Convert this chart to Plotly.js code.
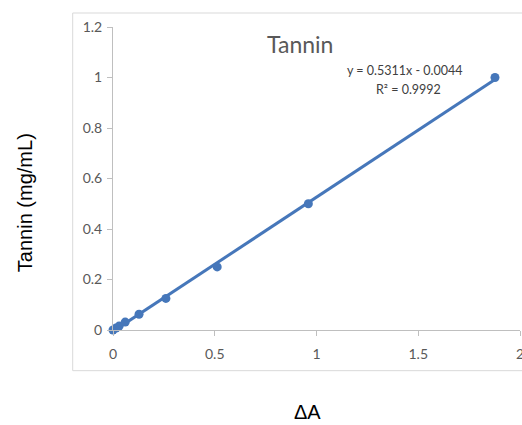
<!DOCTYPE html>
<html>
<head>
<meta charset="utf-8">
<script src="https://cdn.plot.ly/plotly-3.0.1.min.js"></script>
<style>html,body{margin:0;padding:0;background:#fff;overflow:hidden;}#chart{width:522px;height:425px;}</style>
</head>
<body>
<div id="chart"></div>
<script>
// Data
const deltaA = [0, 0.015, 0.03, 0.06, 0.128, 0.26, 0.512, 0.96, 1.877];
const tannin = [0, 0.0078, 0.0156, 0.03125, 0.0625, 0.125, 0.25, 0.5, 1.0];
const chartTitle = "Tannin";
const equationText = "y = 0.5311x - 0.0044";
const r2Text = "R² = 0.9992";
const xTickVals = [0, 0.5, 1, 1.5, 2];
const xTickText = ["0", "0.5", "1", "1.5", "2"];
const yTickVals = [0, 0.2, 0.4, 0.6, 0.8, 1, 1.2];
const yTickText = ["0", "0.2", "0.4", "0.6", "0.8", "1", "1.2"];

// Linear least-squares trendline from the data
const n = deltaA.length;
const mx = deltaA.reduce((a, b) => a + b, 0) / n;
const my = tannin.reduce((a, b) => a + b, 0) / n;
let sxy = 0, sxx = 0;
for (let i = 0; i < n; i++) { sxy += (deltaA[i] - mx) * (tannin[i] - my); sxx += (deltaA[i] - mx) ** 2; }
const slope = sxy / sxx, icpt = my - slope * mx;
const xMin = Math.min(...deltaA), xMax = Math.max(...deltaA);
const trendX = [xMin, xMax];
const trendY = trendX.map(x => slope * x + icpt);

const blue = '#4677ba';
const grey = '#595959';
const font = 'Lato, "Open Sans", sans-serif';

const traces = [
  {x: trendX, y: trendY, mode: 'lines', line: {color: blue, width: 3}, hoverinfo: 'skip', showlegend: false, cliponaxis: false},
  {x: deltaA, y: tannin, mode: 'markers', marker: {color: blue, size: 9}, showlegend: false, cliponaxis: false}
];

// pixel helpers for paper coords (plot area: x 113..520, y 26.7..330)
const L = 113, R = 520, T = 26.7, B = 330;
const px = p => (p - L) / (R - L);
const py = p => (B - p) / (B - T);

const borderStyle = {color: '#d9d9d9', width: 1};
const layout = {
  width: 522, height: 425,
  margin: {l: L, r: 522 - R, t: T, b: 425 - B},
  paper_bgcolor: '#fff', plot_bgcolor: '#fff',
  showlegend: false,
  xaxis: {
    range: [0, 2], tickvals: xTickVals, ticktext: xTickText,
    showgrid: false, zeroline: false, showline: true, linecolor: '#bfbfbf', linewidth: 1,
    ticks: 'outside', ticklen: 5, tickcolor: '#bfbfbf', ticklabelstandoff: 6, ticklabeloverflow: 'allow',
    tickfont: {family: font, size: 14, color: grey}, fixedrange: true
  },
  yaxis: {
    range: [0, 1.2], tickvals: yTickVals, ticktext: yTickText,
    showgrid: false, zeroline: false, showline: true, linecolor: '#bfbfbf', linewidth: 1,
    ticks: 'outside', ticklen: 5, tickcolor: '#bfbfbf', ticklabelstandoff: 2, ticklabeloverflow: 'allow',
    tickfont: {family: font, size: 14, color: grey}, fixedrange: true
  },
  shapes: [
    {type: 'line', xref: 'paper', yref: 'paper', x0: px(72.7), x1: px(540), y0: py(12.7), y1: py(12.7), line: borderStyle, layer: 'below'},
    {type: 'line', xref: 'paper', yref: 'paper', x0: px(72.7), x1: px(540), y0: py(370.7), y1: py(370.7), line: borderStyle, layer: 'below'},
    {type: 'line', xref: 'paper', yref: 'paper', x0: px(72.7), x1: px(72.7), y0: py(12.7), y1: py(370.7), line: borderStyle, layer: 'below'}
  ],
  annotations: [
    {xref: 'paper', yref: 'paper', x: px(300), y: py(44), text: chartTitle, showarrow: false,
     xanchor: 'center', yanchor: 'middle', font: {family: font, size: 23, color: grey}},
    {xref: 'paper', yref: 'paper', x: px(404), y: py(70), text: equationText, showarrow: false,
     xanchor: 'center', yanchor: 'middle', font: {family: font, size: 12.5, color: '#404040'}},
    {xref: 'paper', yref: 'paper', x: px(408), y: py(89), text: r2Text, showarrow: false,
     xanchor: 'center', yanchor: 'middle', font: {family: font, size: 12.5, color: '#404040'}},
    {xref: 'paper', yref: 'paper', x: px(25), y: py(203), text: 'Tannin (mg/mL)', showarrow: false, textangle: -90,
     xanchor: 'center', yanchor: 'middle', font: {family: 'Liberation Sans, Arial, sans-serif', size: 20, color: '#000'}},
    {xref: 'paper', yref: 'paper', x: px(307), y: py(412), text: 'ΔA', showarrow: false,
     xanchor: 'center', yanchor: 'middle', font: {family: 'Liberation Sans, Arial, sans-serif', size: 20, color: '#000'}}
  ]
};

Plotly.newPlot('chart', traces, layout, {displayModeBar: false, staticPlot: true});
</script>
</body>
</html>
